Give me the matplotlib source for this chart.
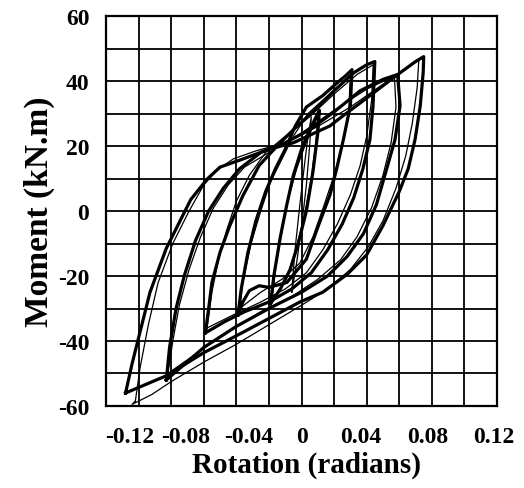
import matplotlib
matplotlib.use("Agg")
import matplotlib.pyplot as plt

# hysteresis loops: (rotation, moment) pairs,
# each loop goes negative tip -> positive tip -> back to negative tip
loop_a_x = [-0.108, -0.104, -0.098, -0.093, -0.083, -0.068, -0.058, -0.050, -0.036, -0.020, -0.005,
            0.0175, 0.0255, 0.042, 0.058, 0.070, 0.075,
            0.0747, 0.0729, 0.0697, 0.0655, 0.060, 0.050, 0.040, 0.028, 0.013, -0.001,
            -0.019, -0.040, -0.060, -0.083, -0.108]
loop_a_y = [-56, -47, -35, -25, -11.5, 3.5, 9.8, 13.5, 16, 19, 21,
            26.2, 29.3, 35.5, 41.6, 46, 47.5,
            42.7, 32.4, 22, 13, 6, -4.5, -13.5, -19.5, -25, -28,
            -32.8, -38.4, -43.6, -50.7, -56]

loop_a2_x = [-0.102, -0.099, -0.094, -0.088, -0.079, -0.069, -0.060, -0.052, -0.042, -0.028, -0.010,
             0.010, 0.030, 0.050, 0.065, 0.072,
             0.071, 0.068, 0.064, 0.058, 0.050, 0.041, 0.030, 0.016, 0.000,
             -0.020, -0.040, -0.060, -0.080, -0.092, -0.104, -0.102]
loop_a2_y = [-58.5, -48, -35, -22, -10, 0, 8, 12.5, 16, 18.5, 21,
             26, 32, 39, 44, 46.5,
             38, 27, 17, 7, -3, -11, -18, -24, -29,
             -35, -41, -46.5, -52.5, -56.5, -59.5, -58.5]

loop_b_x = [-0.083, -0.081, -0.077, -0.072, -0.065, -0.057, -0.048, -0.038, -0.025, -0.010,
            0.005, 0.020, 0.036, 0.050, 0.059,
            0.0605, 0.0574, 0.0523, 0.046, 0.038, 0.028, 0.016, 0.000,
            -0.020, -0.040, -0.060, -0.083]
loop_b_y = [-52, -42, -30, -20, -9, 0, 7, 13, 18, 21,
            25, 30.5, 37, 40.5, 42,
            32.4, 22, 13, 2, -7, -14, -20, -25,
            -30, -35.5, -42, -52]

loop_b2_x = [-0.082, -0.079, -0.075, -0.069, -0.062, -0.054, -0.045, -0.035, -0.020, 0.000,
             0.020, 0.040, 0.057,
             0.058, 0.055, 0.050, 0.043, 0.034, 0.024, 0.010, -0.005,
             -0.025, -0.045, -0.065, -0.082]
loop_b2_y = [-50, -40, -29, -18, -8, 1, 8, 13.5, 18, 24,
             31, 37.5, 41.5,
             32, 21, 11, 1, -8, -15, -21, -26,
             -31, -37, -44, -50]

loop_c_x = [-0.059, -0.057, -0.055, -0.050, -0.044, -0.036, -0.026, -0.015, -0.005,
            0.008, 0.020, 0.032, 0.040, 0.045,
            0.0439, 0.042, 0.0377, 0.032, 0.025, 0.016, 0.006, -0.006,
            -0.020, -0.035, -0.047, -0.059]
loop_c_y = [-37.5, -30, -22, -12.7, -4.5, 4.7, 14, 20, 25,
            31, 37, 42.5, 45, 46,
            32.4, 22, 13, 4, -4, -12, -19, -24,
            -28, -31, -34, -37.5]

loop_c2_x = [-0.058, -0.055, -0.051, -0.046, -0.040, -0.032, -0.022, -0.010, 0.005,
             0.020, 0.034, 0.044,
             0.043, 0.040, 0.036, 0.030, 0.022, 0.013, 0.003, -0.010,
             -0.025, -0.042, -0.058]
loop_c2_y = [-36, -25, -15, -6, 3, 11, 18, 23, 29,
             36, 42, 45,
             34, 23, 14, 5, -4, -12, -19, -24,
             -28, -32, -36]

loop_d_x = [-0.039, -0.037, -0.033, -0.028, -0.022, -0.016, -0.010, -0.004, 0.003,
            0.013, 0.022, 0.027, 0.031,
            0.030, 0.0257, 0.0216, 0.0175, 0.010, 0.003, -0.009,
            -0.020, -0.026, -0.032, -0.036, -0.039]
loop_d_y = [-32, -24, -13, -3, 6, 13, 19, 26, 32,
            35.5, 39.5, 41.6, 43.5,
            32.4, 22, 13, 5, -5, -14.8, -22,
            -23.5, -23, -24.5, -28, -32]

loop_d2_x = [-0.038, -0.036, -0.031, -0.025, -0.019, -0.012, -0.005, 0.004,
             0.015, 0.024, 0.030,
             0.029, 0.025, 0.020, 0.014, 0.007, -0.001, -0.012, -0.025, -0.038]
loop_d2_y = [-30, -22, -10, 0, 9, 16, 23, 30,
             35, 39, 42,
             31, 20, 11, 2, -8, -16, -21, -25, -30]

loop_e_x = [-0.019, -0.017, -0.013, -0.009, -0.005, 0.000, 0.005, 0.009, 0.011,
            0.010, 0.007, 0.003, -0.002, -0.007, -0.013, -0.019]
loop_e_y = [-28.5, -20, -8, 2, 11, 19, 25, 29, 31,
            24, 12, 0, -10, -18, -24, -28.5]

loop_e2_x = [-0.018, -0.016, -0.012, -0.008, -0.003, 0.002, 0.007, 0.010,
             0.009, 0.006, 0.002, -0.003, -0.008, -0.013, -0.018]
loop_e2_y = [-27, -18, -6, 4, 13, 20, 26, 29,
             22, 10, -1, -11, -19, -24, -27]

loop_f_x = [-0.006, -0.004, -0.001, 0.002, 0.004, 0.006,
            0.005, 0.003, 0.000, -0.003, -0.006]
loop_f_y = [-25, -12, 2, 15, 23, 29,
            20, 8, -5, -16, -25]

thick_loops = [(loop_a_x, loop_a_y), (loop_b_x, loop_b_y), (loop_c_x, loop_c_y),
               (loop_d_x, loop_d_y), (loop_e_x, loop_e_y)]
thin_loops = [(loop_a2_x, loop_a2_y), (loop_b2_x, loop_b2_y), (loop_c2_x, loop_c2_y),
              (loop_d2_x, loop_d2_y), (loop_e2_x, loop_e2_y), (loop_f_x, loop_f_y)]

x_tick_labels = ["-0.12", "-0.08", "-0.04", "0", "0.04", "0.08", "0.12"]
# the labels in the original sit a little off the grid lines
x_label_pos = [-0.1053, -0.0709, -0.0322, 0.0, 0.0365, 0.0777, 0.1182]
y_ticks = [-60, -40, -20, 0, 20, 40, 60]
y_tick_labels = ["-60", "-40", "-20", "0", "20", "40", "60"]

plt.rcParams['font.family'] = ['Liberation Serif', 'DejaVu Serif']
plt.rcParams['font.weight'] = 'bold'

fig = plt.figure(figsize=(5.24, 4.89), dpi=100)
ax = fig.add_axes([0.2023, 0.1677, 0.7462, 0.7975])

# grid every 0.02 / 10, drawn as plain lines like the scanned paper
for gx in [i * 0.02 for i in range(-6, 7)]:
    ax.axvline(gx, color='black', lw=1.3, zorder=1)
for gy in range(-60, 61, 10):
    ax.axhline(gy, color='black', lw=1.3, zorder=1)

for lx, ly in thin_loops:
    ax.plot(lx, ly, color='black', lw=0.9, zorder=2)
for lx, ly in thick_loops:
    ax.plot(lx, ly, color='black', lw=2.3, zorder=3)

ax.set_xlim(-0.12, 0.12)
ax.set_ylim(-60, 60)
ax.set_xticks([])
ax.set_yticks(y_ticks)
ax.set_yticklabels(y_tick_labels)
ax.tick_params(length=0, labelsize=17, pad=12)
for s in ax.spines.values():
    s.set_linewidth(1.6)

for xp, lab in zip(x_label_pos, x_tick_labels):
    ax.text(xp, -0.077, lab, transform=ax.get_xaxis_transform(),
            ha='center', va='center', fontsize=17, fontweight='bold')

ax.set_xlabel("Rotation (radians)", fontsize=21, fontweight='bold')
ax.xaxis.set_label_coords(0.514, -0.114)
ax.set_ylabel("Moment (kN.m)", fontsize=24, fontweight='bold')
ax.yaxis.set_label_coords(-0.13, 0.5)

fig.savefig("out.png", dpi=100)
